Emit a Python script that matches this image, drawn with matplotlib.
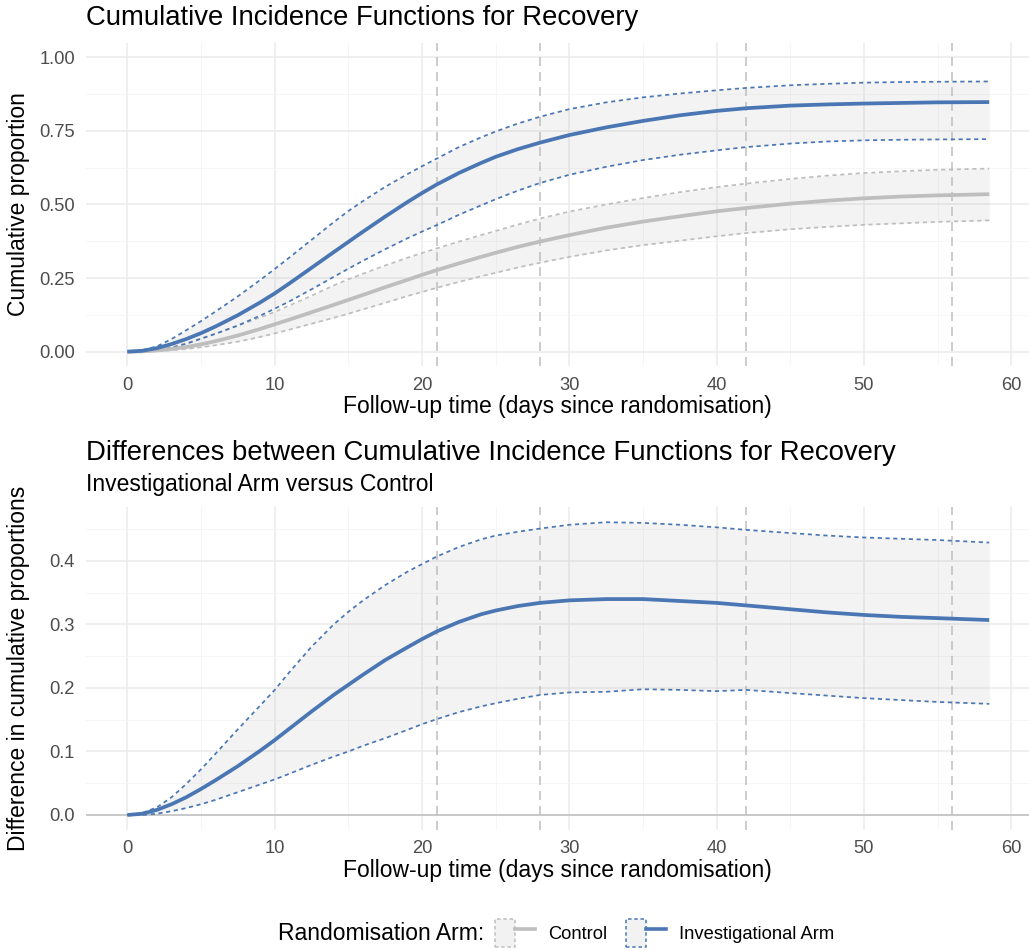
import matplotlib
matplotlib.use("Agg")
import matplotlib.pyplot as plt
from matplotlib.patches import Patch
from matplotlib.lines import Line2D
from matplotlib.legend_handler import HandlerTuple

plt.rcParams['font.family'] = ['Liberation Sans', 'DejaVu Sans']
plt.rcParams['lines.scale_dashes'] = False

# ---------------- data ----------------
time = [0, 1, 2, 3, 4, 5, 6, 7.5, 9, 10, 11, 12.5, 14, 15, 16, 17.5, 19, 20,
        21, 22.5, 24, 25, 26.5, 28, 30, 32.5, 35, 37.5, 40, 42, 45, 47.5, 50,
        52.5, 55, 58.5]

inv_cif = [0, 0.003, 0.012, 0.026, 0.043, 0.063, 0.086, 0.124, 0.167, 0.198, 0.232,
           0.285, 0.338, 0.373, 0.408, 0.459, 0.508, 0.539, 0.568, 0.607, 0.641,
           0.662, 0.688, 0.71, 0.736, 0.762, 0.784, 0.803, 0.818, 0.827, 0.836,
           0.840, 0.843, 0.845, 0.847, 0.848]
inv_upper = [0, 0.005, 0.018, 0.043, 0.073, 0.104, 0.137, 0.188, 0.243, 0.281, 0.32,
             0.38, 0.44, 0.478, 0.512, 0.56, 0.603, 0.63, 0.656, 0.695, 0.728,
             0.748, 0.775, 0.798, 0.824, 0.847, 0.864, 0.877, 0.888, 0.896, 0.905,
             0.910, 0.914, 0.916, 0.917, 0.918]
inv_lower = [0, 0.001, 0.005, 0.013, 0.027, 0.044, 0.061, 0.089, 0.122, 0.146, 0.171,
             0.212, 0.254, 0.282, 0.309, 0.348, 0.385, 0.408, 0.43, 0.465, 0.497,
             0.518, 0.547, 0.573, 0.601, 0.628, 0.651, 0.669, 0.684, 0.695, 0.707,
             0.714, 0.718, 0.72, 0.721, 0.722]

ctl_cif = [0, 0.001, 0.004, 0.009, 0.016, 0.025, 0.036, 0.055, 0.077, 0.093, 0.109,
           0.134, 0.159, 0.176, 0.193, 0.219, 0.244, 0.261, 0.277, 0.30, 0.322,
           0.336, 0.356, 0.374, 0.396, 0.421, 0.442, 0.46, 0.477, 0.488, 0.503,
           0.513, 0.521, 0.527, 0.531, 0.535]
ctl_upper = [0, 0.002, 0.007, 0.016, 0.029, 0.045, 0.062, 0.088, 0.116, 0.135, 0.157,
             0.19, 0.225, 0.246, 0.265, 0.293, 0.319, 0.335, 0.351, 0.374, 0.396,
             0.41, 0.432, 0.452, 0.476, 0.50, 0.522, 0.542, 0.559, 0.571, 0.587,
             0.598, 0.607, 0.613, 0.618, 0.622]
ctl_lower = [0, 0.0, 0.002, 0.005, 0.009, 0.015, 0.022, 0.034, 0.05, 0.062, 0.075,
             0.095, 0.115, 0.129, 0.144, 0.166, 0.189, 0.203, 0.217, 0.237, 0.256,
             0.268, 0.286, 0.302, 0.322, 0.344, 0.362, 0.377, 0.392, 0.403, 0.416,
             0.424, 0.431, 0.436, 0.441, 0.446]

diff = [0, 0.002, 0.008, 0.017, 0.028, 0.041, 0.055, 0.077, 0.101, 0.118, 0.136,
        0.163, 0.189, 0.205, 0.221, 0.244, 0.264, 0.277, 0.289, 0.304, 0.316,
        0.322, 0.329, 0.334, 0.338, 0.34, 0.34, 0.337, 0.334, 0.33, 0.324,
        0.319, 0.315, 0.312, 0.31, 0.307]
diff_upper = [0, 0.003, 0.012, 0.028, 0.049, 0.072, 0.097, 0.135, 0.172, 0.197, 0.225,
              0.265, 0.30, 0.32, 0.338, 0.362, 0.383, 0.395, 0.407, 0.422, 0.434,
              0.44, 0.446, 0.451, 0.457, 0.461, 0.46, 0.457, 0.453, 0.449, 0.444,
              0.44, 0.437, 0.435, 0.433, 0.429]
diff_lower = [0, 0.0, 0.002, 0.006, 0.011, 0.017, 0.024, 0.036, 0.048, 0.056, 0.065,
              0.079, 0.092, 0.10, 0.109, 0.121, 0.134, 0.143, 0.151, 0.162, 0.171,
              0.176, 0.183, 0.189, 0.193, 0.194, 0.198, 0.197, 0.195, 0.197, 0.192,
              0.188, 0.184, 0.181, 0.178, 0.175]

milestones = [21, 28, 42, 56]
x_ticks = [0, 10, 20, 30, 40, 50, 60]
top_yticks = [0.00, 0.25, 0.50, 0.75, 1.00]
top_ytick_labels = ["0.00", "0.25", "0.50", "0.75", "1.00"]
bot_yticks = [0.0, 0.1, 0.2, 0.3, 0.4]
bot_ytick_labels = ["0.0", "0.1", "0.2", "0.3", "0.4"]

arm_labels = ["Control", "Investigational Arm"]

# ---------------- style ----------------
BLUE = "#4A77B4"
GREY = "#BEBEBE"
RIBBON = "#7F7F7F"
RIB_ALPHA = 0.085
GRID_MAJOR = "#EBEBEB"
GRID_MINOR = "#F4F4F4"
TICK_COL = "#4D4D4D"
CI_DASH = (0, (3.0, 2.6))
CI_LW = 1.25
VL_DASH = (0, (6.5, 4.3))
BASE = 16.5
TICK_FS = 13.2

W, H = 1029, 951
fig = plt.figure(figsize=(W / 100, H / 100), dpi=100)

ax1 = fig.add_axes([86 / W, 1 - 366.4 / H, 1 - 86 / W, (366.4 - 42.6) / H])
ax2 = fig.add_axes([86 / W, 1 - 829.6 / H, 1 - 86 / W, (829.6 - 507) / H])


def style_axes(ax, yticks, ylabels, yminor):
    ax.set_xlim(-2.81, 61.2)
    for s in ax.spines.values():
        s.set_visible(False)
    ax.set_xticks(x_ticks)
    ax.set_xticks([5, 15, 25, 35, 45, 55], minor=True)
    ax.set_yticks(yticks)
    ax.set_yticklabels(ylabels)
    ax.set_yticks(yminor, minor=True)
    ax.tick_params(which='both', length=0)
    ax.tick_params(axis='y', pad=8.0, labelsize=TICK_FS, labelcolor=TICK_COL)
    ax.tick_params(axis='x', pad=7.5, labelsize=TICK_FS, labelcolor=TICK_COL)
    ax.grid(which='major', color=GRID_MAJOR, lw=1.1)
    ax.grid(which='minor', color=GRID_MINOR, lw=0.55)
    ax.set_axisbelow(True)
    for m in milestones:
        ax.axvline(m, color=GREY, lw=1.1, linestyle=VL_DASH, zorder=1.5)


style_axes(ax1, top_yticks, top_ytick_labels, [0.125, 0.375, 0.625, 0.875])
ax1.set_ylim(-0.05, 1.05)

# Top panel
ax1.fill_between(time, ctl_lower, ctl_upper, color=RIBBON, alpha=RIB_ALPHA, lw=0, zorder=1)
ax1.fill_between(time, inv_lower, inv_upper, color=RIBBON, alpha=RIB_ALPHA, lw=0, zorder=1)
ax1.plot(time, ctl_upper, color=GREY, lw=CI_LW, linestyle=CI_DASH, zorder=2)
ax1.plot(time, ctl_lower, color=GREY, lw=CI_LW, linestyle=CI_DASH, zorder=2)
ax1.plot(time, inv_upper, color=BLUE, lw=CI_LW, linestyle=CI_DASH, zorder=2)
ax1.plot(time, inv_lower, color=BLUE, lw=CI_LW, linestyle=CI_DASH, zorder=2)
ax1.plot(time, ctl_cif, color=GREY, lw=2.7, zorder=3, solid_capstyle='butt', solid_joinstyle='round')
ax1.plot(time, inv_cif, color=BLUE, lw=2.7, zorder=3, solid_capstyle='butt', solid_joinstyle='round')

# Bottom panel
style_axes(ax2, bot_yticks, bot_ytick_labels, [0.05, 0.15, 0.25, 0.35, 0.45])
ax2.set_ylim(-0.023, 0.485)
ax2.axhline(0, color=GREY, lw=1.1, zorder=1.6)
ax2.fill_between(time, diff_lower, diff_upper, color=RIBBON, alpha=RIB_ALPHA, lw=0, zorder=1)
ax2.plot(time, diff_upper, color=BLUE, lw=CI_LW, linestyle=CI_DASH, zorder=2)
ax2.plot(time, diff_lower, color=BLUE, lw=CI_LW, linestyle=CI_DASH, zorder=2)
ax2.plot(time, diff, color=BLUE, lw=2.7, zorder=3, solid_capstyle='butt', solid_joinstyle='round')

# Titles and labels
xc = (86 + W) / 2 / W
fig.text(86 / W, 1 - 25 / H, "Cumulative Incidence Functions for Recovery",
         fontsize=19.8, va='baseline', ha='left')
fig.text(xc, 1 - 407 / H, "Follow-up time (days since randomisation)",
         fontsize=BASE, va='center', ha='center')
fig.text(19 / W, 1 - 204.5 / H, "Cumulative proportion", rotation=90,
         fontsize=BASE, va='center', ha='center')

fig.text(86 / W, 1 - 460 / H, "Differences between Cumulative Incidence Functions for Recovery",
         fontsize=19.8, va='baseline', ha='left')
fig.text(86 / W, 1 - 490.5 / H, "Investigational Arm versus Control",
         fontsize=BASE, va='baseline', ha='left')
fig.text(xc, 1 - 870 / H, "Follow-up time (days since randomisation)",
         fontsize=BASE, va='center', ha='center')
fig.text(19 / W, 1 - 668 / H, "Difference in cumulative proportions", rotation=90,
         fontsize=BASE, va='center', ha='center')

# Legend
h_ctl = (Patch(facecolor="#F2F2F2", edgecolor=GREY, linestyle=(0, (2.5, 2)), lw=1.1),
         Line2D([], [], color=GREY, lw=2.6))
h_inv = (Patch(facecolor="#F2F2F2", edgecolor=BLUE, linestyle=(0, (2.5, 2)), lw=1.1),
         Line2D([], [], color=BLUE, lw=2.6))
fig.text(484 / W, 1 - 933 / H, "Randomisation Arm:", fontsize=BASE, va='center', ha='right')
fig.legend([h_ctl, h_inv], arm_labels, handler_map={tuple: HandlerTuple(ndivide=None, pad=0)},
           loc='center left', bbox_to_anchor=(495 / W, 1 - 933 / H), ncol=2, frameon=False,
           fontsize=TICK_FS, handlelength=2.2, handleheight=2.0, handletextpad=0.7,
           columnspacing=1.0, borderaxespad=0, borderpad=0)

fig.savefig("out.png", dpi=100)
